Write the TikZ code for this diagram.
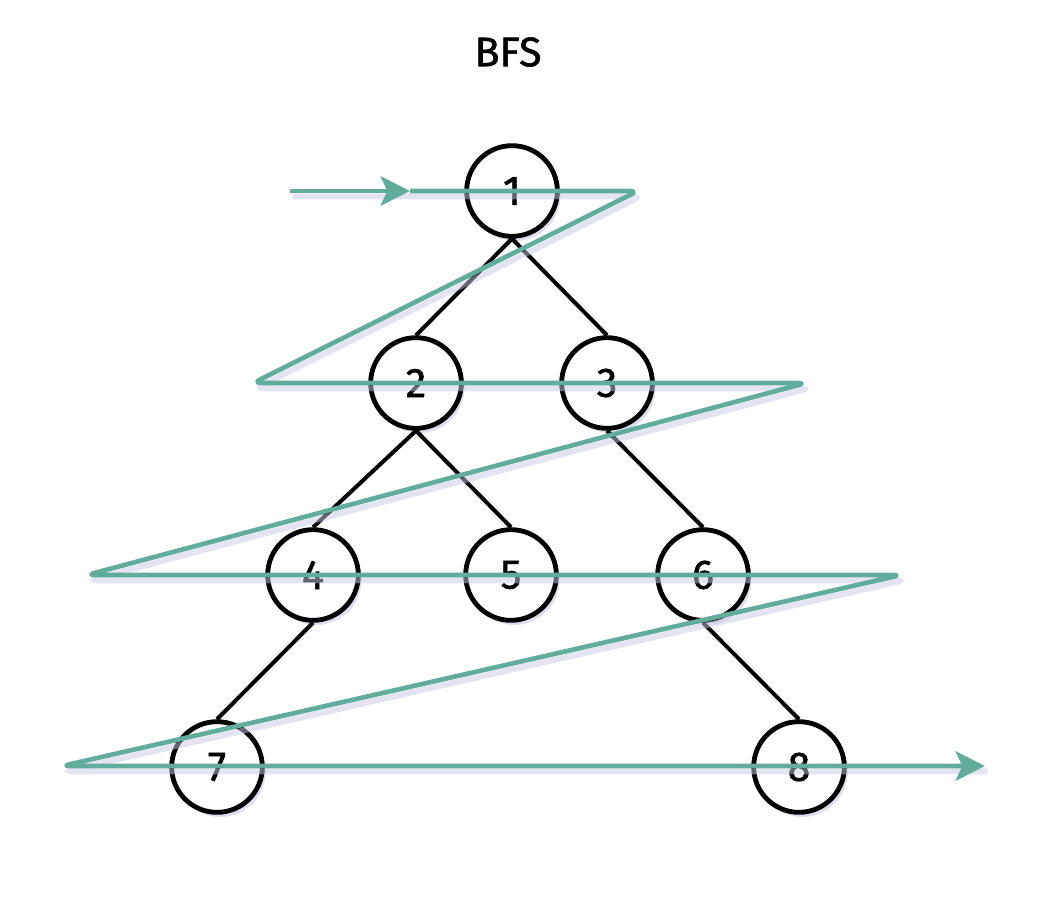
\documentclass[tikz,border=0pt]{standalone}
\usepackage{fontspec}
\setmainfont{Fira Sans}
\newfontfamily\heavyfont{Fira Sans}[FakeBold=1.3]
\usetikzlibrary{arrows.meta,shadows}
\definecolor{flowc}{RGB}{98,172,156}
\definecolor{shad}{RGB}{200,200,228}
\begin{document}
\begin{tikzpicture}[x=0.75pt,y=-0.75pt,
  vert/.style={circle,draw=black,line width=3.6pt,minimum size=68pt,inner sep=0pt,fill=white,
    font=\heavyfont\fontsize{31}{31}\selectfont,
    drop shadow={shadow xshift=2.5pt,shadow yshift=-3.5pt,fill=shad,opacity=0.6}},
  edge/.style={draw=black,line width=3pt},
  flow/.style={draw=flowc,line width=3.5pt,rounded corners=6pt,line join=round},
  flowshadow/.style={draw=shad,line width=4.5pt,rounded corners=6pt,opacity=0.5,transform canvas={xshift=2pt,yshift=-4pt}},
  tip/.style={-{Stealth[length=22pt,width=22pt,inset=5pt]}}
]
\useasboundingbox[fill=white] (0,0) rectangle (1060,919);
\node[font=\heavyfont\fontsize{31}{31}\selectfont] (title) at (508,52) {BFS};
% vertices
\node[vert] (n1) at (512,191) {1};
\node[vert] (n2) at (416,383) {2};
\node[vert] (n3) at (607,383) {3};
\node[vert] (n4) at (313,575) {4};
\node[vert] (n5) at (511,575) {5};
\node[vert] (n6) at (703,575) {6};
\node[vert] (n7) at (217,767) {7};
\node[vert] (n8) at (799,767) {8};
% tree edges
\draw[edge] (n1.south) -- (n2.north);
\draw[edge] (n1.south) -- (n3.north);
\draw[edge] (n2.south) -- (n4.north);
\draw[edge] (n2.south) -- (n5.north);
\draw[edge] (n3.south) -- (n6.north);
\draw[edge] (n4.south) -- (n7.north);
\draw[edge] (n6.south) -- (n8.north);
% traversal path
\coordinate (s0) at (290,191);
\coordinate (s1) at (410,191);
\coordinate (t1) at (638,191);
\coordinate (t2) at (253,383);
\coordinate (t3) at (806,383);
\coordinate (t4) at (87,575);
\coordinate (t5) at (901,575);
\coordinate (t6) at (62,766);
\coordinate (e) at (985,766);
\draw[flowshadow] (s0) -- (s1) -- (t1) -- (t2) -- (t3) -- (t4) -- (t5) -- (t6) -- (e);
\draw[flow,tip] (s0) -- (s1);
\draw[flow,tip] (s1) -- (t1) -- (t2) -- (t3) -- (t4) -- (t5) -- (t6) -- (e);
\end{tikzpicture}
\end{document}
